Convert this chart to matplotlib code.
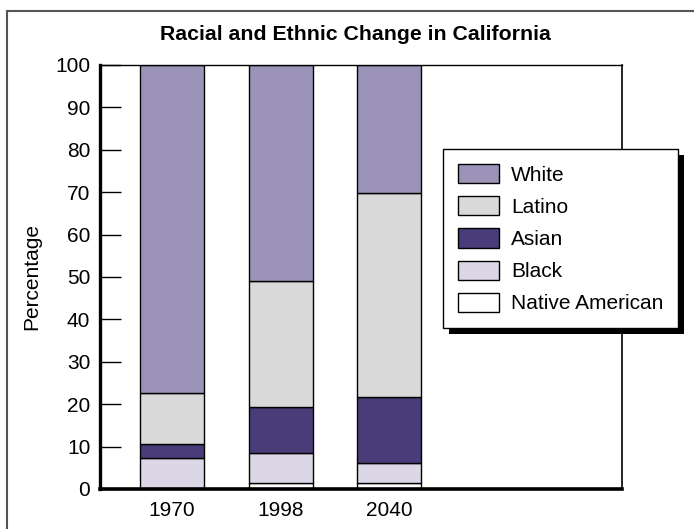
import numpy as np
import matplotlib
matplotlib.use('Agg')
import matplotlib.pyplot as plt
from matplotlib.patches import Patch, Rectangle
from matplotlib.transforms import IdentityTransform

plt.rcParams['font.family'] = ['Liberation Sans', 'DejaVu Sans']

# data (percent)
years = ['1970', '1998', '2040']
groups = ['Native American', 'Black', 'Asian', 'Latino', 'White']
native = [0.0, 1.4, 1.4]
black = [7.3, 7.0, 4.8]
asian = [3.2, 11.0, 15.6]
latino = [12.1, 29.7, 47.9]
white = [77.4, 50.9, 30.3]
colors = ['#ffffff', '#dcd7e6', '#4a3c78', '#d9d9d9', '#9c93b8']

W, H = 694, 529
fs = 15
fig = plt.figure(figsize=(W / 100, H / 100), dpi=100)
ax = fig.add_axes([100 / W, 1 - 489 / H, 522 / W, 424 / H])

x = np.arange(len(years))
bottom = np.zeros(len(years))
handles = {}
for name, vals, c in zip(groups, [native, black, asian, latino, white], colors):
    ax.bar(x, vals, 0.59, bottom=bottom, color=c, edgecolor='black', linewidth=1.0, zorder=2)
    bottom += np.array(vals)
    handles[name] = Patch(facecolor=c, edgecolor='black', linewidth=1.0)

ax.set_xlim(-0.664, 4.147)
ax.set_ylim(0, 100)
ax.set_yticks(np.arange(0, 101, 10))
ax.set_xticks(x)
ax.set_xticklabels(years)
ax.tick_params(axis='y', direction='in', length=15, width=1.0, pad=7, labelsize=fs)
ax.tick_params(axis='x', length=0, pad=9, labelsize=fs)
ax.set_ylabel('Percentage', fontsize=fs, labelpad=10)

ax.spines['left'].set_linewidth(2.4)
ax.spines['bottom'].set_linewidth(2.6)
ax.spines['top'].set_linewidth(1.0)
ax.spines['right'].set_linewidth(1.2)
for s in ax.spines.values():
    s.set_zorder(3)

fig.text(355 / W, 1 - 40 / H, 'Racial and Ethnic Change in California',
         ha='center', va='baseline', fontsize=15.3, fontweight='bold')

order = ['White', 'Latino', 'Asian', 'Black', 'Native American']
leg = fig.legend([handles[n] for n in order], order, loc='upper left',
                 bbox_to_anchor=(443 / W, 1 - 149 / H), fontsize=fs,
                 frameon=True, fancybox=False, framealpha=1, edgecolor='black',
                 borderpad=0.72, handlelength=1.98, handleheight=1.04,
                 handletextpad=0.56, labelspacing=0.55, borderaxespad=0)
leg.get_frame().set_linewidth(1.0)
leg.set_zorder(6)

# outer frame (only top and left edges inside the picture)
fig.add_artist(Rectangle((7 / W, -0.1), 1.2, 1 - 11 / H + 0.1, transform=fig.transFigure,
                         fill=False, edgecolor='#555555', linewidth=1.5, zorder=1))

# legend drop shadow
fig.canvas.draw()
bb = leg.get_window_extent()
fig.add_artist(Rectangle((bb.x0 + 6, bb.y0 - 6), bb.width, bb.height,
                         transform=IdentityTransform(), facecolor='black',
                         edgecolor='none', zorder=5))

fig.savefig('out.png', dpi=100)
